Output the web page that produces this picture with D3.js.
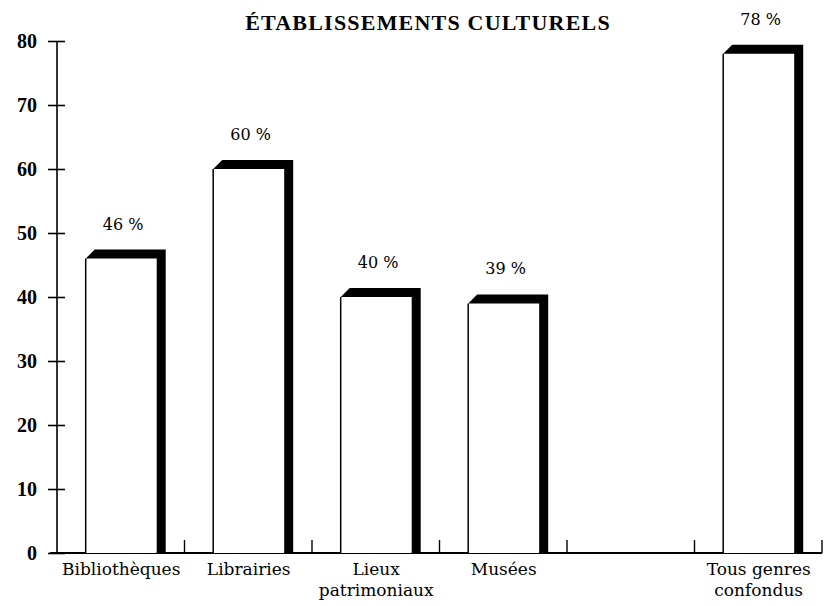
<!DOCTYPE html>
<html>
<head>
<meta charset="utf-8">
<script src="https://cdn.jsdelivr.net/npm/d3@7"></script>
<style>
  html, body { margin: 0; padding: 0; background: #fff; }
  svg { display: block; }
</style>
</head>
<body>
<svg id="chart" width="824" height="606"></svg>
<script>
// ---- data ----
const title = "ÉTABLISSEMENTS CULTURELS";
const categories = ["Bibliothèques", "Librairies", "Lieux\npatrimoniaux", "Musées", "", "Tous genres\nconfondus"];
const values = [46, 60, 40, 39, null, 78];
const yTicks = [0, 10, 20, 30, 40, 50, 60, 70, 80];

// ---- layout ----
const svg = d3.select("#chart");
const axisX = 57, baseY = 553, topY = 41, rightX = 822;
const serif = "'DejaVu Serif', 'Liberation Serif', serif";
const times = "'Liberation Serif', 'DejaVu Serif', serif";

const x = d3.scaleBand().domain(categories).range([axisX, rightX]).padding(0);
const y = d3.scaleLinear().domain([0, 80]).range([baseY, topY]);

const bw = x.bandwidth();
const bodyOff = bw * 0.225, bodyW = bw * 0.557, depth = 9;

// title
svg.append("text")
  .attr("x", 428).attr("y", 30)
  .attr("text-anchor", "middle")
  .attr("font-family", times)
  .attr("font-weight", "bold")
  .attr("font-size", 22)
  .attr("letter-spacing", 1.2)
  .text(title);

// y axis
const yAxis = d3.axisLeft(y).tickValues(yTicks).tickSize(0).tickPadding(0);
const gy = svg.append("g").attr("transform", `translate(${axisX},0)`).call(yAxis);
gy.select(".domain").remove();
gy.selectAll(".tick text")
  .attr("x", -20)
  .attr("dy", "0.34em")
  .attr("font-family", times)
  .attr("font-weight", "bold")
  .attr("font-size", 20)
  .attr("fill", "#000");
gy.selectAll(".tick").append("line")
  .attr("x1", -9).attr("x2", 8)
  .attr("stroke", "#000").attr("stroke-width", 1.6);
svg.append("line")
  .attr("x1", axisX).attr("x2", axisX)
  .attr("y1", y(80)).attr("y2", baseY)
  .attr("stroke", "#000").attr("stroke-width", 1.6);

// x axis baseline
svg.append("line")
  .attr("x1", 50).attr("x2", rightX)
  .attr("y1", baseY).attr("y2", baseY)
  .attr("stroke", "#000").attr("stroke-width", 1.8);
// band boundary ticks (upward)
const bounds = categories.map(c => x(c) + bw);
svg.selectAll(".btick").data(bounds).enter().append("line")
  .attr("class", "btick")
  .attr("x1", d => d).attr("x2", d => d)
  .attr("y1", baseY).attr("y2", baseY - 13)
  .attr("stroke", "#000").attr("stroke-width", 1.4);

// bars
const data = categories.map((c, i) => ({ c, v: values[i] })).filter(d => d.v != null);
const bars = svg.selectAll(".bar").data(data).enter().append("g").attr("class", "bar");

bars.append("rect")
  .attr("x", d => x(d.c) + bodyOff)
  .attr("y", d => y(d.v))
  .attr("width", bodyW)
  .attr("height", d => baseY - y(d.v))
  .attr("fill", "#fff");

bars.append("path")
  .attr("d", d => {
    const x0 = x(d.c) + bodyOff, x1 = x0 + bodyW, yv = y(d.v);
    return `M${x0},${yv} L${x0 + depth},${yv - depth} L${x1 + depth},${yv - depth} L${x1 + depth},${baseY} L${x1},${baseY} L${x1},${yv} Z`;
  })
  .attr("fill", "#000");

bars.append("line")
  .attr("x1", d => x(d.c) + bodyOff).attr("x2", d => x(d.c) + bodyOff)
  .attr("y1", d => y(d.v)).attr("y2", baseY)
  .attr("stroke", "#000").attr("stroke-width", 1.5);

// value labels
bars.append("text")
  .attr("x", d => x(d.c) + bodyOff + bodyW / 2 + 2)
  .attr("y", d => y(d.v) - depth - 20)
  .attr("text-anchor", "middle")
  .attr("font-family", serif)
  .attr("font-size", 16)
  .text(d => d.v + " %");

// category labels
categories.forEach(c => {
  if (!c) return;
  const t = svg.append("text")
    .attr("text-anchor", "middle")
    .attr("font-family", serif)
    .attr("font-size", 17)
    .attr("y", 575);
  c.split("\n").forEach((line, i) => {
    t.append("tspan")
      .attr("x", x(c) + bodyOff + bodyW / 2)
      .attr("dy", i === 0 ? 0 : 21)
      .text(line);
  });
});
</script>
</body>
</html>
